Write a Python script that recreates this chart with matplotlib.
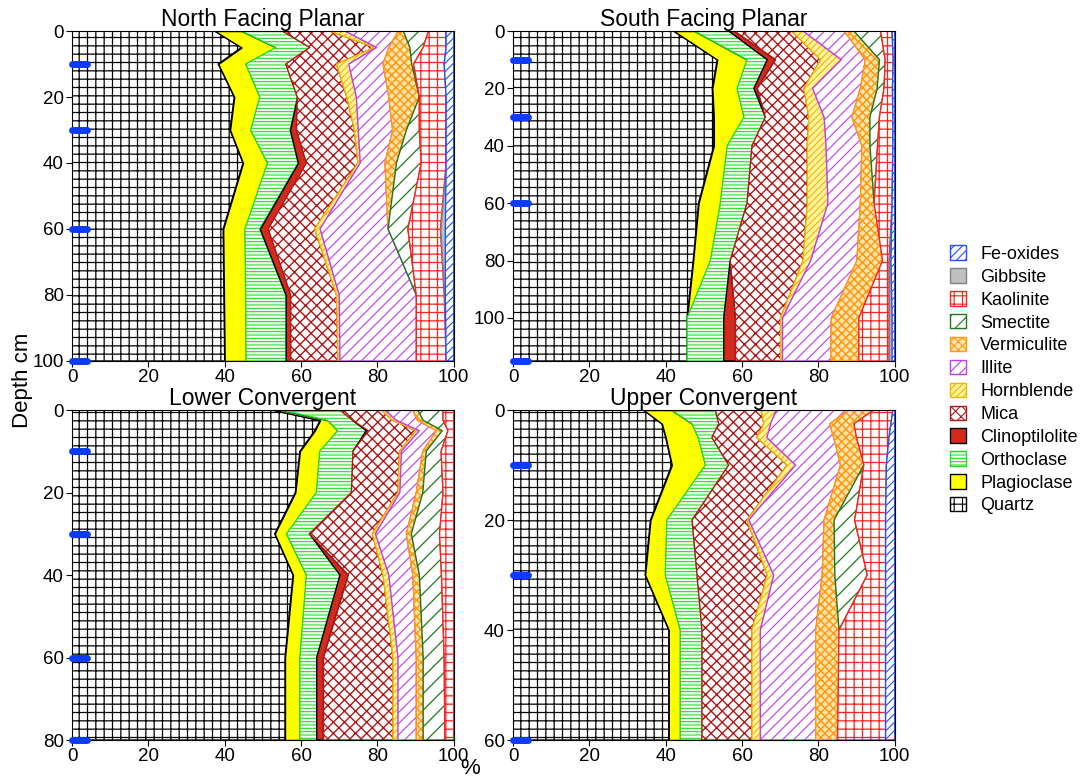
import numpy as np
import matplotlib
matplotlib.use('Agg')
import matplotlib.pyplot as plt
from matplotlib.patches import Patch

plt.rcParams['font.family'] = ['Liberation Sans', 'DejaVu Sans']
plt.rcParams['hatch.linewidth'] = 0.8

minerals = ['Quartz', 'Plagioclase', 'Orthoclase', 'Clinoptilolite', 'Mica', 'Hornblende',
            'Illite', 'Vermiculite', 'Smectite', 'Kaolinite', 'Gibbsite', 'Fe-oxides']

# North Facing Planar (% of each mineral by depth, cm)
north_depth = [0, 5, 10, 20, 30, 40, 60, 80, 100]
north_quartz = [37.4, 44.4, 38.3, 42.5, 41.4, 44.8, 39.6, 39.8, 40.0]
north_plag = [7.0, 9.0, 7.2, 6.7, 5.4, 6.4, 5.7, 5.7, 5.6]
north_orth = [10.7, 8.9, 10.5, 9.8, 10.3, 8.0, 3.9, 10.5, 10.4]
north_clino = [0, 0, 0, 0, 1.7, 2.2, 2.2, 1.3, 1.3]
north_mica = [12.4, 17.0, 13.3, 13.0, 15.2, 13.5, 12.2, 12.0, 12.4]
north_horn = [4.0, 0.5, 3.2, 2.5, 1.0, 0.6, 1.4, 0.7, 0.5]
north_illite = [14.0, 3.2, 9.0, 8.5, 9.0, 6.5, 17.8, 20.2, 20.0]
north_verm = [1.3, 5.5, 7.5, 8.0, 3.6, 3.0, 0, 0, 0]
north_smec = [6.6, 3.5, 0.5, 0, 3.4, 6.5, 5.2, 0, 0]
north_kaol = [4.6, 6.0, 8.0, 7.0, 7.0, 6.5, 8.5, 7.3, 7.8]
north_gibb = [0, 0, 0, 0, 0, 0, 1.3, 0.3, 0]
north_fe = [2.0, 2.0, 2.5, 2.0, 2.0, 2.0, 2.2, 2.2, 2.0]
north_marks = [10, 30, 60, 100]

# South Facing Planar
south_depth = [0, 10, 20, 30, 40, 60, 80, 100, 115]
south_quartz = [42.1, 53.5, 52.2, 52.6, 52.6, 48.6, 47.2, 45.6, 45.6]
south_plag = [5.4, 7.8, 6.5, 7.9, 3.5, 5.7, 4.5, 0, 0]
south_orth = [9.0, 5.3, 4.4, 5.6, 6.5, 7.0, 5.2, 9.6, 9.6]
south_clino = [1.5, 2.2, 0.9, 0, 0, 0, 0, 3.1, 3.1]
south_mica = [15.0, 11.8, 12.2, 11.4, 14.5, 15.8, 19.1, 11.8, 11.8]
south_horn = [3.0, 5.4, 2.3, 4.0, 4.9, 5.4, 2.0, 0.5, 0.5]
south_illite = [10.7, 6.3, 12.5, 7.3, 9.4, 8.5, 12.1, 12.8, 12.6]
south_verm = [2.6, 3.7, 4.4, 4.7, 2.1, 3.6, 6.7, 7.2, 7.4]
south_smec = [7.0, 1.5, 1.8, 2.5, 2.0, 0, 0, 0, 0]
south_kaol = [3.0, 2.1, 2.2, 3.5, 4.0, 4.7, 1.7, 7.9, 7.9]
south_gibb = [0, 0, 0, 0, 0, 0, 0.5, 0.8, 0.8]
south_fe = [0.7, 0.4, 0.6, 0.5, 0.5, 0.7, 1.0, 0.7, 0.7]
south_marks = [10, 30, 60, 115]

# Lower Convergent
lower_depth = [0, 2.5, 5, 10, 20, 30, 40, 60, 80]
lower_quartz = [52.7, 65.0, 63.6, 59.7, 58.5, 53.1, 57.9, 55.8, 55.8]
lower_plag = [2.3, 2.0, 6.0, 5.2, 5.5, 3.1, 3.5, 3.9, 3.9]
lower_orth = [15.2, 6.5, 7.5, 8.7, 9.2, 6.0, 8.8, 4.4, 4.4]
lower_clino = [0, 0, 0.5, 0, 0, 0, 2.2, 1.8, 1.8]
lower_mica = [10.9, 10.5, 12.6, 12.2, 12.2, 16.5, 9.1, 18.2, 18.2]
lower_horn = [0.9, 1.0, 0.8, 0.5, 0.5, 0.8, 1.5, 1.3, 1.3]
lower_illite = [7.3, 5.5, 4.5, 5.6, 4.3, 8.1, 6.3, 4.8, 4.8]
lower_verm = [1.3, 1.5, 1.5, 0.9, 1.7, 1.3, 1.7, 1.8, 1.8]
lower_smec = [6.6, 5.2, 1.5, 3.9, 5.3, 7.4, 5.8, 5.5, 5.7]
lower_kaol = [2.8, 2.8, 1.5, 3.3, 2.8, 3.7, 3.2, 2.5, 2.3]
lower_gibb = [0, 0, 0, 0, 0, 0, 0, 0, 0]
lower_fe = [0, 0, 0, 0, 0, 0, 0, 0, 0]
lower_marks = [10, 30, 60, 80]

# Upper Convergent
upper_depth = [0, 2.5, 5, 10, 20, 30, 40, 60]
upper_quartz = [34.2, 39.0, 40.0, 41.6, 36.0, 34.6, 40.8, 40.8]
upper_plag = [7.3, 7.9, 8.5, 8.8, 4.3, 5.3, 3.0, 3.0]
upper_orth = [11.5, 7.0, 3.6, 6.1, 6.6, 8.3, 5.7, 5.7]
upper_clino = [0, 0, 0, 0, 0, 0, 0, 0]
upper_mica = [12.0, 11.8, 11.8, 15.3, 14.4, 18.4, 13.1, 13.1]
upper_horn = [4.0, 1.8, 2.6, 2.2, 0.5, 1.7, 2.2, 2.2]
upper_illite = [19.0, 15.5, 17.5, 11.8, 19.7, 12.7, 14.5, 14.5]
upper_verm = [6.5, 6.3, 6.0, 6.1, 2.6, 3.3, 6.1, 5.7]
upper_smec = [0, 0, 0, 0, 5.4, 8.5, 0, 0]
upper_kaol = [5.0, 9.7, 8.5, 5.9, 8.1, 4.8, 12.2, 12.6]
upper_gibb = [0, 0, 0, 0, 0, 0, 0, 0]
upper_fe = [0.5, 1.0, 1.5, 2.2, 2.4, 2.4, 2.4, 2.4]
upper_marks = [10, 30, 60]

# face colour, edge/hatch colour, hatch, hatch line width
styles = {
    'Quartz':         ('white',   'black',   '++',    0.9),
    'Plagioclase':    ('#ffff00', 'black',   None,    0.8),
    'Orthoclase':     ('white',   '#22dd22', '-----', 0.8),
    'Clinoptilolite': ('#d42a1e', 'black',   None,    0.8),
    'Mica':           ('white',   '#b01818', 'xxx',   1.0),
    'Hornblende':     ('#fff5a0', '#f5b400', '/////', 0.8),
    'Illite':         ('white',   '#c03cf0', '///',   0.8),
    'Vermiculite':    ('#ffe6b0', '#ff9a10', 'xxxx',  1.1),
    'Smectite':       ('white',   '#1e781e', '//',    0.9),
    'Kaolinite':      ('white',   '#ff2020', '++',    0.9),
    'Gibbsite':       ('#c0c0c0', '#808080', None,    0.8),
    'Fe-oxides':      ('white',   '#2050ff', '////',  0.8),
}

panels = [
    ('North Facing Planar', north_depth,
     [north_quartz, north_plag, north_orth, north_clino, north_mica, north_horn,
      north_illite, north_verm, north_smec, north_kaol, north_gibb, north_fe],
     north_marks, 100),
    ('South Facing Planar', south_depth,
     [south_quartz, south_plag, south_orth, south_clino, south_mica, south_horn,
      south_illite, south_verm, south_smec, south_kaol, south_gibb, south_fe],
     south_marks, 115),
    ('Lower Convergent', lower_depth,
     [lower_quartz, lower_plag, lower_orth, lower_clino, lower_mica, lower_horn,
      lower_illite, lower_verm, lower_smec, lower_kaol, lower_gibb, lower_fe],
     lower_marks, 80),
    ('Upper Convergent', upper_depth,
     [upper_quartz, upper_plag, upper_orth, upper_clino, upper_mica, upper_horn,
      upper_illite, upper_verm, upper_smec, upper_kaol, upper_gibb, upper_fe],
     upper_marks, 60),
]

fig = plt.figure(figsize=(10.86, 7.77), dpi=100)
boxes = [(0.0663, 0.5354), (0.4724, 0.5354), (0.0663, 0.0476), (0.4724, 0.0476)]

for (title, depth, comps, marks, dmax), (x0, y0) in zip(panels, boxes):
    ax = fig.add_axes([x0, y0, 0.3515, 0.4247])
    depth = np.array(depth, dtype=float)
    left = np.zeros(len(depth))
    for name, vals in zip(minerals, comps):
        v = np.array(vals, dtype=float)
        right = left + v
        m = v > 0
        m = m | np.r_[m[1:], False] | np.r_[False, m[:-1]]
        if m.any():
            fc, ec, hatch, hlw = styles[name]
            with plt.rc_context({'hatch.linewidth': hlw}):
                ax.fill_betweenx(depth, left, right, where=m, facecolor=fc, edgecolor=ec,
                                 hatch=hatch, linewidth=1.0)
        left = right
    for d in marks:
        ax.plot([0, 4], [d, d], color='#0a3cff', lw=5, solid_capstyle='round',
                clip_on=False, zorder=5)
    ax.set_xlim(0, 100)
    ax.set_ylim(dmax, 0)
    ax.set_xticks([0, 20, 40, 60, 80, 100])
    ax.set_yticks(np.arange(0, dmax + 1, 20))
    ax.tick_params(labelsize=13.5, direction='out', length=4, pad=2)
    ax.set_title(title, fontsize=16.5, pad=0)

fig.text(0.021, 0.51, 'Depth cm', rotation=90, fontsize=16, va='center', ha='center')
fig.text(0.433, 0.024, '%', fontsize=16, ha='center', va='top')

handles = []
for name in minerals[::-1]:
    fc, ec, hatch, hlw = styles[name]
    handles.append(Patch(facecolor=fc, edgecolor=ec, hatch=hatch, label=name))
fig.legend(handles=handles, loc='center left', bbox_to_anchor=(0.86, 0.511),
           frameon=False, fontsize=13, handlelength=0.85, handleheight=0.85,
           labelspacing=0.3, handletextpad=0.8)

fig.savefig('out.png', dpi=100)
